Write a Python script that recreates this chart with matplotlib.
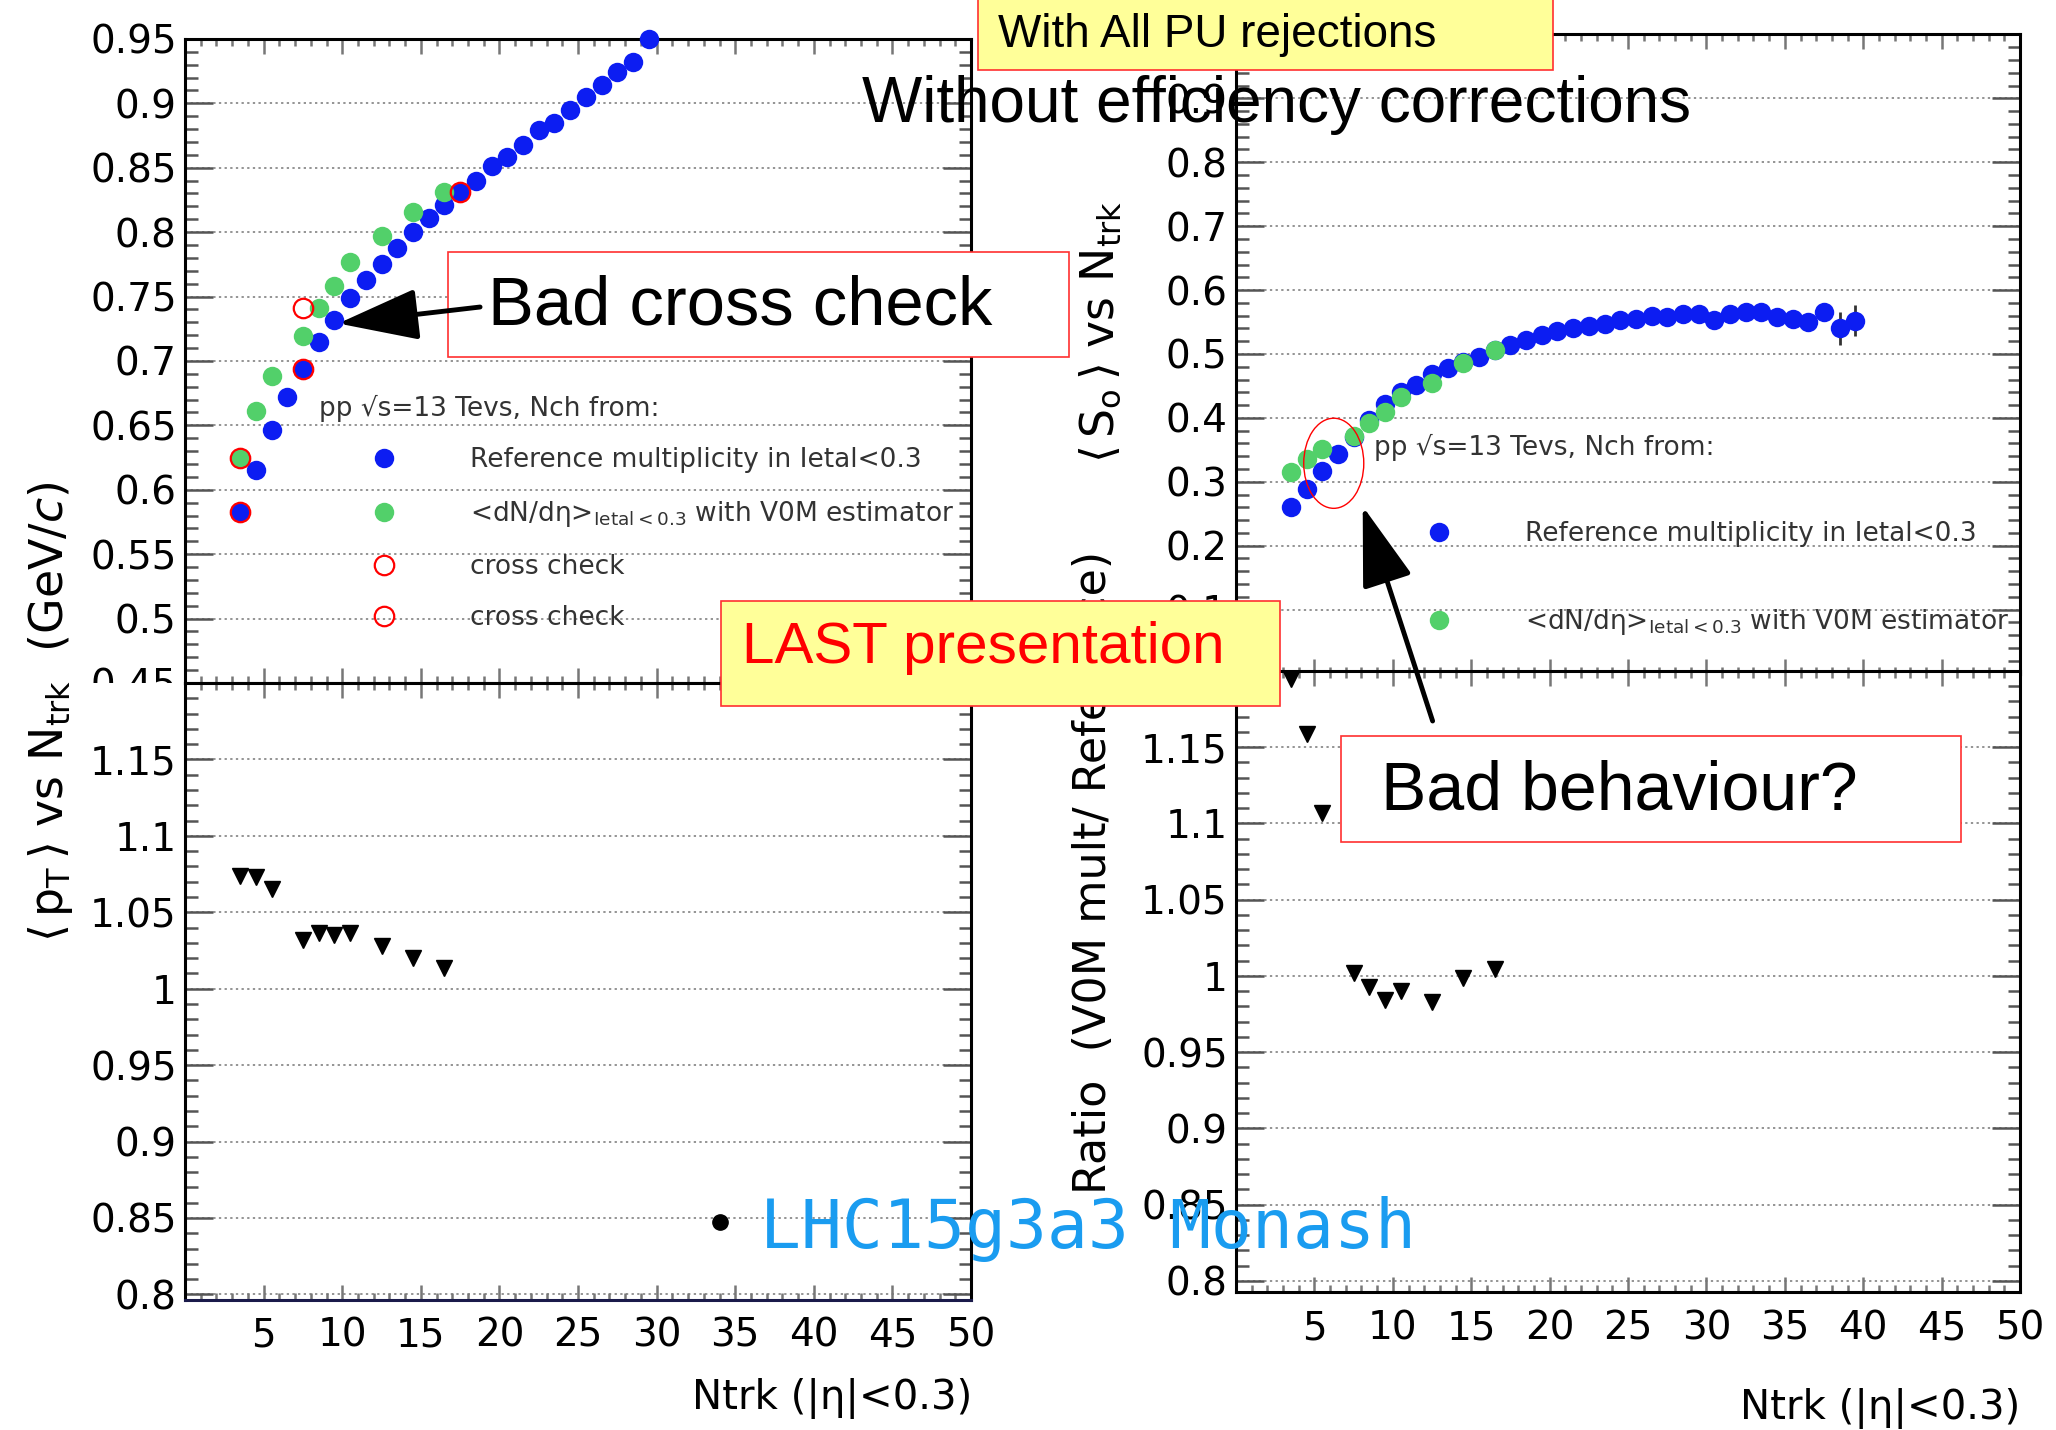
import matplotlib
matplotlib.use('Agg')
import matplotlib.pyplot as plt
import matplotlib.ticker as ticker
from matplotlib.lines import Line2D
from matplotlib.patches import Rectangle, Ellipse, FancyArrowPatch

BLUE = '#0c1df2'
GREEN = '#52d06a'
YELLOW = '#ffff99'
ANNOT_FONT = 'Liberation Sans'

# <pT> vs Ntrk, reference multiplicity in |eta|<0.3
ntrk_ref = [3.5, 4.5, 5.5, 6.5, 7.5, 8.5, 9.5, 10.5, 11.5, 12.5, 13.5, 14.5, 15.5, 16.5,
            17.5, 18.5, 19.5, 20.5, 21.5, 22.5, 23.5, 24.5, 25.5, 26.5, 27.5, 28.5, 29.5]
pt_ref = [0.583, 0.6155, 0.6465, 0.672, 0.694, 0.715, 0.732, 0.749, 0.763, 0.775, 0.788,
          0.800, 0.811, 0.821, 0.831, 0.840, 0.851, 0.858, 0.868, 0.879, 0.8845, 0.895,
          0.905, 0.914, 0.924, 0.932, 0.950]

# <pT> vs Ntrk, V0M estimator
ntrk_v0m = [3.5, 4.5, 5.5, 7.5, 8.5, 9.5, 10.5, 12.5, 14.5, 16.5]
pt_v0m = [0.6245, 0.661, 0.688, 0.719, 0.741, 0.758, 0.777, 0.797, 0.816, 0.8315]
pt_ratio = [1.0739, 1.0728, 1.0652, 1.032, 1.0365, 1.0348, 1.0365, 1.0278, 1.0198, 1.0137]

# cross checks
cross1_x = [3.5, 7.5, 17.5]
cross1_y = [0.6245, 0.741, 0.831]
cross2_x = [3.5, 7.5]
cross2_y = [0.583, 0.694]

# <So> vs Ntrk
ntrk_so = [3.5, 4.5, 5.5, 6.5, 7.5, 8.5, 9.5, 10.5, 11.5, 12.5, 13.5, 14.5, 15.5, 16.5,
           17.5, 18.5, 19.5, 20.5, 21.5, 22.5, 23.5, 24.5, 25.5, 26.5, 27.5, 28.5, 29.5,
           30.5, 31.5, 32.5, 33.5, 34.5, 35.5, 36.5, 37.5, 38.5, 39.5]
so_ref = [0.261, 0.2885, 0.3167, 0.344, 0.370, 0.397, 0.422, 0.440, 0.4516, 0.4688, 0.4776,
          0.487, 0.496, 0.506, 0.514, 0.522, 0.530, 0.536, 0.540, 0.544, 0.547, 0.553,
          0.555, 0.559, 0.558, 0.562, 0.562, 0.553, 0.563, 0.566, 0.566, 0.558, 0.555,
          0.550, 0.565, 0.540, 0.552]
so_err = [0.002, 0.002, 0.002, 0.002, 0.002, 0.002, 0.002, 0.002, 0.002, 0.002, 0.002,
          0.002, 0.002, 0.002, 0.002, 0.002, 0.003, 0.003, 0.003, 0.003, 0.003, 0.003,
          0.004, 0.004, 0.004, 0.004, 0.005, 0.005, 0.005, 0.006, 0.006, 0.007, 0.008,
          0.009, 0.010, 0.026, 0.024]
so_v0m = [0.3156, 0.335, 0.352, 0.371, 0.392, 0.409, 0.4333, 0.455, 0.4865, 0.507]
so_ratio = [1.195, 1.1587, 1.107, 1.002, 0.9926, 0.9839, 0.990, 0.9826, 0.9985, 1.0044]

xlabel = 'Ntrk (|η|<0.3)'
legend_head = 'pp √s=13 Tevs, Nch from:'
lab_ref = 'Reference multiplicity in Ietal<0.3'
lab_v0m = r'<dN/dη>$_{\mathrm{Ietal<0.3}}$ with V0M estimator'


def hide_fmt(hidden):
    def f(v, pos):
        for h in hidden:
            if abs(v - h) < 1e-6:
                return ''
        return '%g' % round(v, 3)
    return ticker.FuncFormatter(f)


def style(ax, ylo, yhi, ymaj, ymin, hidden, xpad):
    ax.set_xlim(0, 50)
    ax.set_ylim(ylo, yhi)
    ax.set_axisbelow(True)
    ax.xaxis.set_major_locator(ticker.MultipleLocator(5))
    ax.xaxis.set_minor_locator(ticker.MultipleLocator(1))
    ax.xaxis.set_major_formatter(hide_fmt([0]))
    ax.yaxis.set_major_locator(ticker.MultipleLocator(ymaj))
    ax.yaxis.set_minor_locator(ticker.MultipleLocator(ymin))
    ax.yaxis.set_major_formatter(hide_fmt(hidden))
    ax.tick_params(which='both', direction='in', top=True, right=True, labelsize=28)
    ax.tick_params(axis='y', which='major', length=20, width=1.8, color='#555', pad=6)
    ax.tick_params(axis='y', which='minor', length=9, width=1.8, color='#555')
    ax.tick_params(axis='x', which='major', length=11, width=1.8, color='#777', pad=xpad)
    ax.tick_params(axis='x', which='minor', length=5, width=1.8, color='#777')
    ax.grid(axis='y', which='major', color='#777', lw=1.1, ls=(0, (1.5, 2.2)))
    for s in ax.spines.values():
        s.set_linewidth(2.2)


fig = plt.figure(figsize=(20.56, 14.30), dpi=100)

ax_pt = fig.add_axes([0.0900, 0.5224, 0.3823, 0.4504])
ax_ptr = fig.add_axes([0.0900, 0.0909, 0.3823, 0.4315])
ax_so = fig.add_axes([0.6012, 0.5290, 0.3813, 0.4469])
ax_sor = fig.add_axes([0.6012, 0.0968, 0.3813, 0.4340])

style(ax_pt, 0.45, 0.95, 0.05, 0.01, [], 12)
style(ax_ptr, 0.7963, 1.2, 0.05, 0.01, [1.2], 12)
style(ax_so, 0.0, 1.0, 0.1, 0.02, [0.0, 1.0], 13)
style(ax_sor, 0.793, 1.2, 0.05, 0.01, [1.2], 13)
ax_pt.tick_params(labelbottom=False)
ax_so.tick_params(labelbottom=False)
ax_ptr.spines['bottom'].set_color('#1a1a4a')

# top left: <pT>
ax_pt.plot(ntrk_ref, pt_ref, 'o', ms=14, color=BLUE, mec='none', zorder=3, clip_on=False)
ax_pt.plot(ntrk_v0m, pt_v0m, 'o', ms=14, color=GREEN, mec='none', zorder=4)
ax_pt.plot(cross1_x, cross1_y, 'o', ms=14, mfc='none', mec='red', mew=1.6, zorder=5)
ax_pt.plot(cross2_x, cross2_y, 'o', ms=14, mfc='none', mec='red', mew=1.6, zorder=5)

h_ref = Line2D([], [], ls='none', marker='o', ms=14, color=BLUE, mec='none')
h_v0m = Line2D([], [], ls='none', marker='o', ms=14, color=GREEN, mec='none')
h_cc = Line2D([], [], ls='none', marker='o', ms=14, mfc='none', mec='red', mew=1.6)

leg = ax_pt.legend([h_ref, h_v0m, h_cc, h_cc], [lab_ref, lab_v0m, 'cross check', 'cross check'],
                   title=legend_head, loc='upper left', bbox_to_anchor=(0.170, 0.447),
                   frameon=False, alignment='left', fontsize=19, title_fontsize=19,
                   handlelength=4.96, handletextpad=0.76, labelspacing=0.96,
                   borderpad=0, borderaxespad=0, labelcolor='#333333')
leg.get_title().set_color('#333333')

# bottom left: ratio
ax_ptr.plot(ntrk_v0m, pt_ratio, 'v', ms=12, color='black')

# top right: <So>
ax_so.errorbar(ntrk_so, so_ref, yerr=so_err, fmt='o', ms=14, color=BLUE, mec='none',
               ecolor='#333333', elinewidth=2, capsize=0, zorder=3)
ax_so.plot(ntrk_v0m, so_v0m, 'o', ms=14, color=GREEN, mec='none', zorder=4)
ax_so.add_patch(Ellipse((6.23, 0.329), 3.83, 0.141, fill=False, ec='red', lw=1.0, zorder=6))

leg2 = ax_so.legend([h_ref, h_v0m], [lab_ref, lab_v0m], title=legend_head,
                    loc='upper left', bbox_to_anchor=(0.176, 0.375), frameon=False,
                    alignment='left', fontsize=19, title_fontsize=19,
                    handlelength=4.96, handletextpad=0.76, labelspacing=2.27,
                    borderpad=0, borderaxespad=0, labelcolor='#333333')
leg2.get_title().set_color('#333333')

# bottom right: ratio
ax_sor.plot(ntrk_v0m, so_ratio, 'v', ms=12, color='black')

# cut the half-hidden 0.45 label like the pad above it
fig.add_artist(Rectangle((0.042, 0.49), 0.046, 0.0324, transform=fig.transFigure,
                         fc='white', ec='none', zorder=2))

# axis titles
fig.text(0.0246, 0.502, r'$\langle\,\mathrm{p}_{\mathrm{T}}\,\rangle$ vs N$_{\mathrm{trk}}$  (GeV/$c$)',
         rotation=90, ha='center', va='center', fontsize=33, zorder=3)
fig.text(0.5354, 0.768, r'$\langle\,\mathrm{S}_{\mathrm{o}}\,\rangle$ vs N$_{\mathrm{trk}}$',
         rotation=90, ha='center', va='center', fontsize=33, zorder=3)
fig.text(0.532, 0.39, 'Ratio  (V0M mult/ Reference)', rotation=90, ha='center',
         va='center', fontsize=32, zorder=3)
fig.text(0.473, 0.0147, xlabel, ha='right', va='baseline', fontsize=29)
fig.text(0.9825, 0.0079, xlabel, ha='right', va='baseline', fontsize=29)

# slide annotations
boxes = [
    ((0.4756, 0.951), 0.2797, 0.06, YELLOW),
    ((0.2180, 0.7501), 0.3018, 0.0739, 'white'),
    ((0.3507, 0.5065), 0.2719, 0.0734, YELLOW),
    ((0.6521, 0.4114), 0.3019, 0.0739, 'white'),
]
for xy, w, h, fc in boxes:
    fig.add_artist(Rectangle(xy, w, h, transform=fig.transFigure, fc=fc, ec='#ff3030',
                             lw=1.2, zorder=6))

fig.text(0.4855, 0.9673, 'With All PU rejections', family=ANNOT_FONT, fontsize=33,
         va='baseline', zorder=8)
fig.text(0.4192, 0.9149, 'Without efficiency corrections', family=ANNOT_FONT, fontsize=46,
         va='baseline', zorder=8)
fig.text(0.2375, 0.7734, 'Bad cross check', family=ANNOT_FONT, fontsize=49.5,
         va='baseline', zorder=8)
fig.text(0.3611, 0.5362, 'LAST presentation', family=ANNOT_FONT, fontsize=42, color='red',
         va='baseline', zorder=8)
fig.text(0.6715, 0.4336, 'Bad behaviour?', family=ANNOT_FONT, fontsize=49,
         va='baseline', zorder=8)

arrows = [((0.2335, 0.7853), (0.1645, 0.7738)), ((0.6968, 0.4958), (0.6628, 0.6460))]
for tail, tip in arrows:
    fig.add_artist(FancyArrowPatch(tail, tip, transform=fig.transFigure,
                                   arrowstyle='-|>,head_length=2.5,head_width=0.8',
                                   mutation_scale=20, lw=3.5, color='black',
                                   shrinkA=0, shrinkB=0, zorder=7))

fig.add_artist(Line2D([0.3502], [0.1455], marker='o', ms=11, color='black',
                      transform=fig.transFigure, zorder=8))
fig.text(0.3698, 0.1273, 'LHC15g3a3 Monash', family='DejaVu Sans Mono', fontsize=49,
         color='#1a9cf0', va='baseline', zorder=8)

fig.savefig('out.png', dpi=100)
